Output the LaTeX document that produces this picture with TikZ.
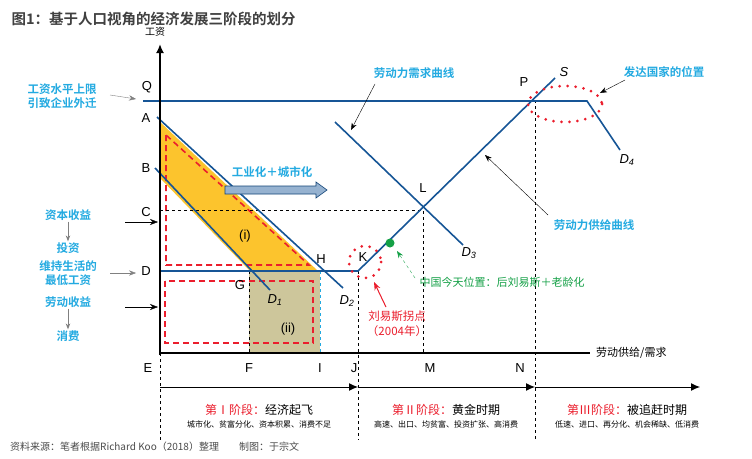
\documentclass[tikz,border=0pt]{standalone}
\usepackage{fontspec}
\setmainfont{Liberation Sans}
\newfontfamily\cjk{Noto Sans CJK SC}
\newfontfamily\cjkb{Noto Sans CJK SC Bold}
\usetikzlibrary{positioning,calc,arrows.meta}
\definecolor{lineblue}{RGB}{22,85,150}
\definecolor{labcyan}{RGB}{35,170,225}
\definecolor{dred}{RGB}{235,30,45}
\definecolor{dgreen}{RGB}{20,160,70}
\definecolor{olive}{RGB}{205,198,155}
\definecolor{orange}{RGB}{252,196,45}
\tikzset{
  curve/.style={lineblue,line width=1.6pt},
  guide/.style={black,dashed,line width=0.6pt},
  reddash/.style={dred,line width=1.6pt,dash pattern=on 6pt off 4pt},
  reddot/.style={dred,line width=3pt,line cap=round,dash pattern=on 0pt off 8pt},
  lab/.style={font=\cjk\fontsize{11}{12}\selectfont,inner sep=1pt},
  cyanlab/.style={font=\cjkb\fontsize{11.5}{14}\selectfont,labcyan,inner sep=1pt,align=center},
  pt/.style={font=\fontsize{13}{13}\selectfont,inner sep=1pt},
  stage/.style={font=\cjk\fontsize{12}{12}\selectfont,inner sep=1pt},
  note/.style={font=\cjk\fontsize{8}{8}\selectfont,inner sep=1pt}
}
\begin{document}
\begin{tikzpicture}[x=1pt,y=-1pt]
\useasboundingbox[fill=white] (0,0) rectangle (752,458);
\node[anchor=west,font=\cjkb\fontsize{14.5}{14}\selectfont,black!75] (title) at (8,19) {图1：基于人口视角的经济发展三阶段的划分};
% fills
\fill[orange] (160,122)--(318,271)--(250,271)--(160,178)--cycle;
\fill[olive] (249,271) rectangle (320,353);
\draw[guide] (249,271)--(249,353);
\draw[labcyan,dashed,line width=0.6pt] (320,271)--(320,353);
\draw[reddash] (166,135)--(166,265)--(309,265)--cycle;
\draw[reddash] (165,281) rectangle (313,343);
% guides
\draw[guide] (160,210)--(423,210)--(423,353);
\draw[guide] (358,271)--(358,440);
\draw[guide] (535,100)--(535,440);
\draw[guide] (160,353)--(160,440);
% curves
\coordinate (Q0) at (143,101);
\coordinate (Qe) at (587,101);
\draw[curve] (Q0)--(Qe)--(620,150);
\draw[curve] (157,117)--(343,288);
\draw[curve] (155,168)--(270,290);
\coordinate (K) at (358,271);
\coordinate (S) at (555,78);
\draw[curve] (160,271)--(K)--(S);
\draw[curve] (335,122)--(463,245);
% axes
\draw[line width=2.2pt,-{Latex[length=9pt,width=8pt]}] (160,355)--(160,44);
\draw[line width=2.2pt] (159,353)--(590,353);
\node[lab,font=\cjk\fontsize{10}{10}\selectfont] (ylab) at (155,32) {工资};
\node[lab,anchor=west] (xlab) at (595,353) {劳动供给/需求};
% points
\foreach \n/\x/\y in {Q/147/87,A/146/118,B/146/168,C/146/212,D/146/271,G/240/285,E/148/368,F/249/368,I/320/368,J/354/368,M/430/368,N/520/368,H/321/259,K/363/257,L/423/188,P/524/82}
  \node[pt] (l\n) at (\x,\y) {\n};
\node[pt,font=\itshape\fontsize{13}{13}\selectfont] (lS) at (564,72) {S};
\node[pt,font=\itshape\fontsize{13}{13}\selectfont] at (275,300) {D\textsubscript{1}};
\node[pt,font=\itshape\fontsize{13}{13}\selectfont] at (347,301) {D\textsubscript{2}};
\node[pt,font=\itshape\fontsize{13}{13}\selectfont] at (469,253) {D\textsubscript{3}};
\node[pt,font=\itshape\fontsize{13}{13}\selectfont] at (627,160) {D\textsubscript{4}};
\node[pt] at (245,236) {(i)};
\node[pt] at (288,329) {(ii)};
% industrialisation arrow
\draw[draw=lineblue!80!black,fill=lineblue!45!white,line width=0.6pt] (225,186)--(316,186)--(316,182)--(327,190)--(316,198)--(316,194)--(225,194)--cycle;
\node[cyanlab] (ind) at (272,172) {工业化＋城市化};
% red dotted marks
\draw[reddot] (565,104) ellipse (37 and 18);
\draw[reddot] (365,262) circle (16);
\fill[dgreen] (390,243) circle (4.5);
% left labels
\node[cyanlab] (cap) at (62,96) {工资水平上限\\引致企业外迁};
\draw[gray,-{Stealth[length=7pt]}] (110,95)--(136,99);
\node[cyanlab] (cr) at (68,215) {资本收益};
\node[cyanlab] (inv) at (68,248) {投资};
\draw[gray,line width=1pt,-{Stealth[length=6pt]}] (cr)--(inv);
\draw[black,-{Stealth[length=8pt]}] (125,222)--(158,222);
\node[cyanlab] (minw) at (68,273) {维持生活的\\最低工资};
\draw[gray,-{Stealth[length=7pt]}] (110,273)--(136,273);
\node[cyanlab] (lr) at (68,302) {劳动收益};
\node[cyanlab] (cons) at (68,336) {消费};
\draw[gray,line width=1pt,-{Stealth[length=6pt]}] (lr)--(cons);
\draw[black,-{Stealth[length=8pt]}] (125,307)--(158,307);
% curve labels
\node[cyanlab] (dem) at (414,73) {劳动力需求曲线};
\draw[black,-{Stealth[length=7pt]}] (375,84)--(351,130);
\node[cyanlab] (sup) at (594,225) {劳动力供给曲线};
\draw[black,-{Stealth[length=7pt]}] (548,215)--(485,155);
\node[cyanlab] (dev) at (664,72) {发达国家的位置};
\draw[black,-{Stealth[length=7pt]}] (625,80)--(600,93);
\node[lab,dgreen] (cn) at (502,282) {中国今天位置：后刘易斯＋老龄化};
\draw[dgreen,dashed,-{Stealth[length=7pt]}] (415,278)--(397,251);
\node[lab,dred,align=center,font=\cjk\fontsize{11.5}{15}\selectfont] (lew) at (397,324) {刘易斯拐点\\（2004年）};
\draw[dred,line width=1pt,-{Stealth[length=8pt]}] (386,307)--(374,282);
% stage arrows
\coordinate (sE) at (160,387);
\coordinate (sJ) at (358,387);
\coordinate (sN) at (535,387);
\coordinate (sEnd) at (700,387);
\draw[line width=1pt,-{Latex[length=9pt,width=8pt]}] (sE)--(sJ);
\draw[line width=1pt,-{Latex[length=9pt,width=8pt]}] (sJ)--(sN);
\draw[line width=1pt,-{Latex[length=9pt,width=8pt]}] (sN)--(sEnd);
\node[stage] (st1) at (259,410) {\textcolor{dred}{第Ⅰ阶段：}经济起飞};
\node[note] at (259,424) {城市化、贫富分化、资本积累、消费不足};
\node[stage] (st2) at (446,410) {\textcolor{dred}{第Ⅱ阶段：}黄金时期};
\node[note] at (446,424) {高速、出口、均贫富、投资扩张、高消费};
\node[stage] (st3) at (627,410) {\textcolor{dred}{第Ⅲ阶段：}被追赶时期};
\node[note] at (627,424) {低速、进口、再分化、机会稀缺、低消费};
\node[anchor=west,font=\cjk\fontsize{10}{10}\selectfont,black!70,inner sep=0] (src) at (10,447) {\textit{资料来源：笔者根据Richard Koo（2018）整理\quad\quad 制图：于宗文}};
\end{tikzpicture}
\end{document}
